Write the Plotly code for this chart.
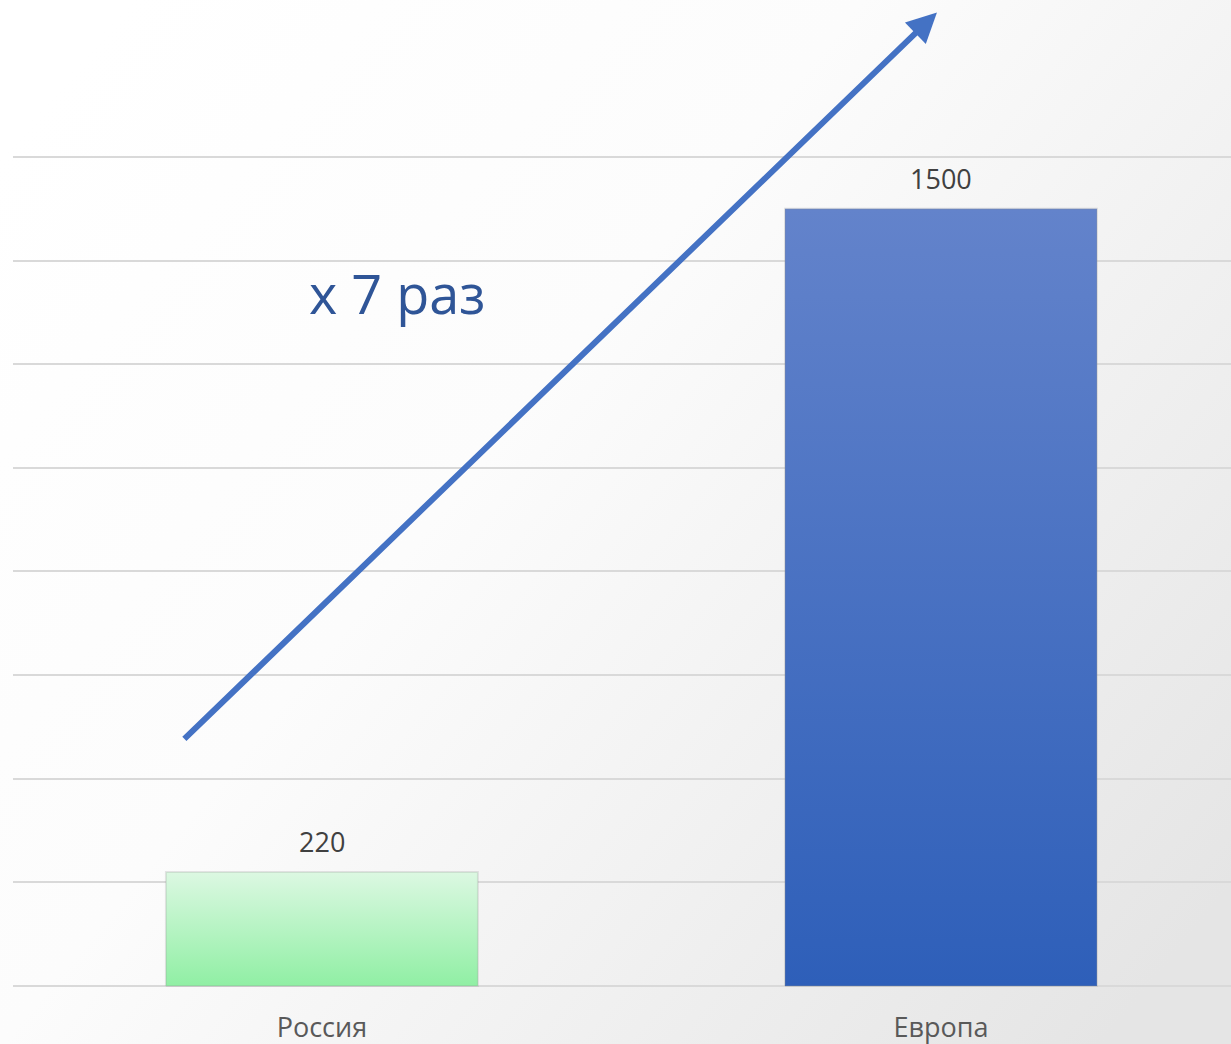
import base64
import plotly.graph_objects as go

categories = ["Россия", "Европа"]
values = [220, 1500]
grid_values = [0, 200, 400, 600, 800, 1000, 1200, 1400, 1600]
multiplier_text = "x 7 раз"

bar_top_colors = ["#dcf8e2", "#6383cb"]
bar_bottom_colors = ["#90efa4", "#2e5fb9"]

BAR_HALF = 0.252

fig = go.Figure()

# bars drawn as filled polygons (to get a vertical gradient), from the data
for i, (cat, v) in enumerate(zip(categories, values)):
    xs = [i - BAR_HALF, i + BAR_HALF, i + BAR_HALF, i - BAR_HALF, i - BAR_HALF]
    ys = [0, 0, v, v, 0]
    fig.add_trace(go.Scatter(
        x=xs, y=ys, mode="lines", fill="toself",
        line=dict(color="rgba(140,140,140,0.22)", width=2),
        fillgradient=dict(type="vertical",
                          colorscale=[[0, bar_bottom_colors[i]], [1, bar_top_colors[i]]]),
        hoverinfo="skip", showlegend=False, name=cat,
    ))

# data labels
for i, v in enumerate(values):
    fig.add_annotation(x=i, y=v, text=str(v), showarrow=False, xref="x", yref="y",
                       yanchor="middle", yshift=30,
                       font=dict(family="Open Sans", size=27, color="#404040"))

# growth arrow
fig.add_annotation(x=0.9935, y=1879, ax=-0.2246, ay=474, xref="x", yref="y",
                   axref="x", ayref="y", text="", showarrow=True,
                   arrowhead=2, arrowsize=1.0, arrowwidth=6, arrowcolor="#4472c4")

fig.add_annotation(x=0.121, y=1338, xref="x", yref="y", text=multiplier_text,
                   showarrow=False,
                   font=dict(family="Open Sans", size=54, color="#2f5597"))

W, H = 1231, 1044
svg = ('<svg xmlns="http://www.w3.org/2000/svg" width="%d" height="%d">'
       '<defs><linearGradient id="g" x1="0" y1="0.15" x2="1" y2="0.85">'
       '<stop offset="0" stop-color="#ffffff"/>'
       '<stop offset="0.4" stop-color="#fcfcfc"/>'
       '<stop offset="1" stop-color="#e5e5e5"/>'
       '</linearGradient></defs>'
       '<rect width="%d" height="%d" fill="url(#g)"/></svg>') % (W, H, W, H)
uri = "data:image/svg+xml;base64," + base64.b64encode(svg.encode()).decode()

ML, MR, MT, MB = 13, 0, 0, 57
pw, ph = W - ML - MR, H - MT - MB

fig.update_layout(
    width=W, height=H,
    margin=dict(l=ML, r=MR, t=MT, b=MB),
    paper_bgcolor="white", plot_bgcolor="rgba(0,0,0,0)",
    showlegend=False,
    images=[dict(source=uri, xref="paper", yref="paper", x=-ML / pw, y=1 + MT / ph,
                 sizex=W / pw, sizey=H / ph, xanchor="left", yanchor="top",
                 sizing="stretch", layer="below")],
    xaxis=dict(range=[-0.499, 1.4685], tickvals=[0, 1], ticktext=categories,
               showgrid=False, zeroline=False, showline=False, ticks="",
               ticklabelstandoff=22,
               tickfont=dict(family="Open Sans", size=27, color="#595959"),
               fixedrange=True),
    yaxis=dict(range=[-2, 1903], tickvals=grid_values, showticklabels=False,
               showgrid=True, gridcolor="#d9d9d9", gridwidth=2,
               zeroline=False, showline=False, ticks="", fixedrange=True),
)

fig.write_html(
    "out.html",
    config={"displayModeBar": False},
    post_script="document.body.style.margin='0';document.body.style.overflow='hidden';",
)
